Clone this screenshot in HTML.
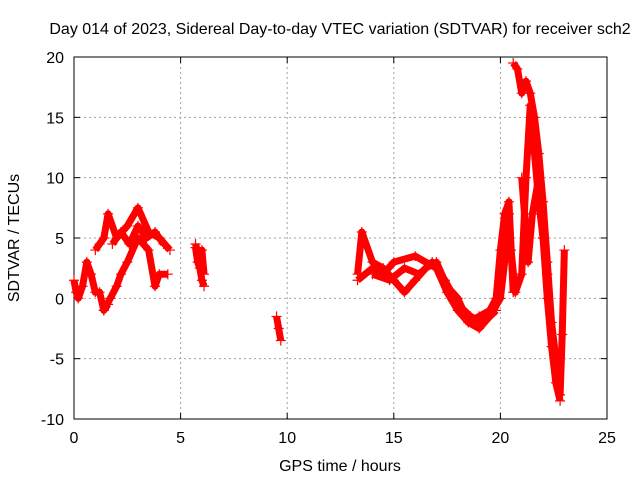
<!DOCTYPE html>
<html><head><meta charset="utf-8"><style>
body{margin:0;background:#fff;}
svg text{font-family:"Liberation Sans",sans-serif;font-size:16px;fill:#000;}
</style></head><body>
<svg id="c" width="640" height="480" xmlns="http://www.w3.org/2000/svg">
<rect width="640" height="480" fill="#fff"/>
<text x="340" y="34" text-anchor="middle">Day 014 of 2023, Sidereal Day-to-day VTEC variation (SDTVAR) for receiver sch2</text>
<text x="340" y="471" text-anchor="middle">GPS time / hours</text>
<text transform="translate(19,238) rotate(-90)" text-anchor="middle">SDTVAR / TECUs</text>
<g id="grid"></g><g id="axes"></g><g id="marks"></g>
</svg>
<script>
const xTicks=[0,5,10,15,20,25];
const yTicks=[-10,-5,0,5,10,15,20];
const t1=[0,0.1,0.2,0.4,0.6,0.8,1.0,1.2,1.4,1.6];
const v1=[1.5,0.5,0,1,3,2,0.5,0.5,-1,-0.5];
const t2=[1.0,1.2,1.4,1.6,2.0,2.5,3.0,3.5,4.0,4.5];
const v2=[4,4.5,5,7,5,6,7.5,5.5,5,4];
const t3=[1.4,1.7,2.0,2.2,2.5,3.0,3.5,3.8,4.0,4.4];
const v3=[-1,0,1,2,3,5,4,1,2,2];
const t3b=[1.8,2.2,2.6,3.0,3.4,3.8,4.2];
const v3b=[4.5,5.5,4.5,6,5,5.5,4.5];
const t4=[5.7,5.8,5.9,6.0,6.1];
const v4=[4.2,3,2.5,1.5,1];
const t5=[5.7,5.85,6.0,6.1];
const v5=[4.5,3.5,4,2];
const t6=[9.5,9.6,9.7];
const v6=[-1.5,-2.5,-3.5];
const t7=[13.3,13.5,14,14.5,15,15.5,16,16.5,17,17.5,18,18.5,19,19.5,20,20.2,20.4,20.5,20.7,21,21.2,21.4,21.6,21.8,22,22.2];
const v7=[2,5.5,3,2.5,1.5,0.5,1.5,2.5,3,1,0,-2,-2.5,-1.5,0,3,7,4,0.5,2,10,16,12,8,5,2];
const t8=[13.3,14,14.5,15,16,17,17.5,18,18.5,19,19.5,19.8,20,20.2,20.4,20.6];
const v8=[1.5,2.5,2,3,3.5,2.5,0.5,-1,-2,-1.5,-1,0,4,7,8,0.5];
const t8b=[14,14.8,15.5,16.2,16.8,17.4,18,18.6,19.2,19.8];
const v8b=[2,1.5,2.5,2,3,1.5,-0.5,-1.5,-2,-1];
const t9=[20.6,20.8,21,21.2,21.4,21.6,21.8,22,22.2,22.4,22.6,22.8,22.9,23];
const v9=[19.5,19,17,18,17,15,12,8,3,-2,-5,-8,-3,4];
const t10=[21,21.3,21.5,21.8,22,22.2,22.4,22.6,22.8];
const v10=[10,3,7,10,5,0,-4,-7,-8.5];
const series=[[t1,v1],[t2,v2],[t3,v3],[t3b,v3b],[t4,v4],[t5,v5],[t6,v6],[t7,v7],[t8,v8],[t8b,v8b],[t9,v9],[t10,v10]];
const X0=74,X1=607,Y0=419,Y1=57;
const sx=t=>X0+(t-0)/25*(X1-X0);
const sy=v=>Y0-(v+10)/30*(Y0-Y1);
const NS="http://www.w3.org/2000/svg";
function mk(tag,attrs,parent){const e=document.createElementNS(NS,tag);for(const k in attrs)e.setAttribute(k,attrs[k]);parent.appendChild(e);return e;}
const grid=document.getElementById('grid'),axes=document.getElementById('axes'),marks=document.getElementById('marks');
xTicks.forEach(t=>{
  const x=sx(t);
  if(t>0&&t<25){const g=mk('line',{x1:x,x2:x,y1:Y0,y2:Y1,stroke:'#a0a0a0','stroke-dasharray':'2,3'},grid);
  
  }
  mk('line',{x1:x,x2:x,y1:Y0,y2:Y0-6,stroke:'#000'},axes);
  mk('line',{x1:x,x2:x,y1:Y1,y2:Y1+6,stroke:'#000'},axes);
  const tx=mk('text',{x:x,y:Y0+24,'text-anchor':'middle'},axes);tx.textContent=t;
  
  
});
yTicks.forEach(v=>{
  const y=sy(v);
  if(v>-10&&v<20){const g=mk('line',{x1:X0,x2:X1,y1:y,y2:y,stroke:'#a0a0a0','stroke-dasharray':'2,3'},grid);
  
  }
  mk('line',{x1:X0,x2:X0+6,y1:y,y2:y,stroke:'#000'},axes);
  mk('line',{x1:X1,x2:X1-6,y1:y,y2:y,stroke:'#000'},axes);
  const tx=mk('text',{x:X0-10,y:y+6,'text-anchor':'end'},axes);tx.textContent=v;
  
  
});
const frame=mk('rect',{x:X0,y:Y1,width:X1-X0,height:Y0-Y1,fill:'none',stroke:'#000'},axes);


series.forEach(([ts,vs])=>{
  const pts=ts.map((t,i)=>sx(t)+','+sy(vs[i])).join(' ');
  const pl=mk('polyline',{points:pts,fill:'none',stroke:'#f00','stroke-width':7,'stroke-linejoin':'round'},marks);
  
  
  ts.forEach((t,i)=>{
    const x=sx(t),y=sy(vs[i]);
    const p=mk('path',{d:`M${x-5},${y}h10M${x},${y-5}v10`,stroke:'#f00','stroke-width':1.2},marks);
    
    
  });
});
</script>
</body></html>
